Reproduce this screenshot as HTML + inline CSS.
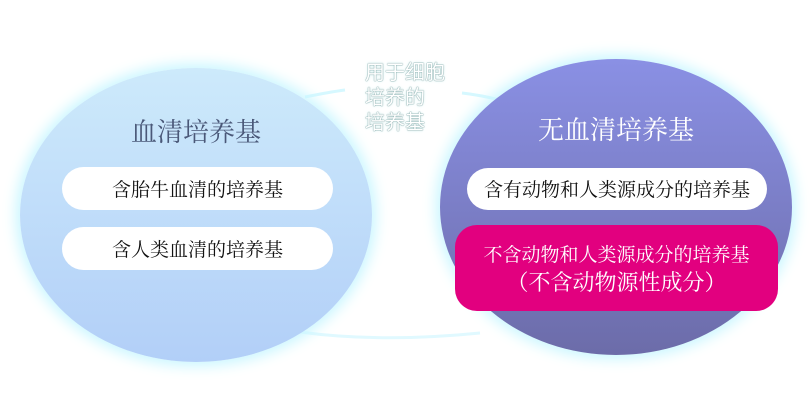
<!DOCTYPE html>
<html><head><meta charset="utf-8"><style>
body{margin:0;width:812px;height:400px;background:#fff;position:relative;overflow:hidden;font-family:"Noto Serif CJK SC","Liberation Serif",serif}
.c{position:absolute;border-radius:50%}
.l{left:20px;top:68px;width:352px;height:294px;background:linear-gradient(#cdeafb,#b2cff8);box-shadow:0 0 14px 4px #c8f6ff}
.r{left:440px;top:59px;width:352px;height:296px;background:linear-gradient(#8a90e4,#6c6ca9);box-shadow:0 0 14px 4px #c8f6ff}
.p{position:absolute;background:#fff;border-radius:22px;text-align:center;font-size:19px;color:#111;white-space:nowrap}
.t{position:absolute;font-size:26px;text-align:center;white-space:nowrap}
.m{position:absolute;left:365px;top:58px;font-family:"Noto Sans CJK SC",sans-serif;font-size:20px;line-height:25px;color:#fff;text-shadow:0 0 1px #8aa,0 0 1px #8aa,0 0 1px #8aa,0 0 3px #cee}
</style></head><body>
<svg width="812" height="400" style="position:absolute;left:0;top:0">
<path d="M305 97 Q330 92 345 90" stroke="#d6f8ff" stroke-width="3" fill="none"/>
<path d="M462 93 Q480 95 500 100" stroke="#d6f8ff" stroke-width="3" fill="none"/>
<path d="M300 332 Q380 343 480 333" stroke="#e0f9ff" stroke-width="3" fill="none"/>
</svg>
<div class="c l"></div>
<div class="c r"></div>
<div class="t" style="left:96px;width:200px;top:112px;color:#4a5878">血清培养基</div>
<div class="t" style="left:516px;width:200px;top:110px;color:#fff">无血清培养基</div>
<div class="p" style="left:62px;top:167px;width:271px;height:43px;line-height:43px">含胎牛血清的培养基</div>
<div class="p" style="left:62px;top:227px;width:271px;height:43px;line-height:43px">含人类血清的培养基</div>
<div class="p" style="left:467px;top:168px;width:300px;height:42px;line-height:42px">含有动物和人类源成分的培养基</div>
<div style="position:absolute;left:455px;top:225px;width:323px;height:86px;background:#e2007f;border-radius:22px;color:#fff;text-align:center;white-space:nowrap">
<div style="font-size:19px;margin-top:17px;line-height:24px">不含动物和人类源成分的培养基</div>
<div style="font-size:22px;margin-top:2px;line-height:28px">（不含动物源性成分）</div></div>
<div class="m">用于细胞<br>培养的<br>培养基</div>
</body></html>
